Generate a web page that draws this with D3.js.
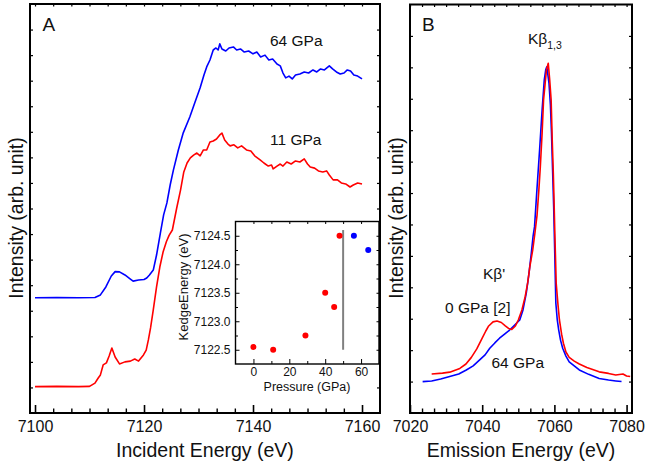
<!DOCTYPE html>
<html><head><meta charset="utf-8">
<script src="https://cdn.jsdelivr.net/npm/d3@7/dist/d3.min.js"></script>
<style>body{margin:0;background:#fff}svg{display:block}text{font-family:"Liberation Sans",Arial,sans-serif;fill:#111}</style>
</head><body>
<svg id="c" width="645" height="466"></svg>
<script>
// ---------- Panel A data: incident energy (eV) vs intensity (arb.) ----------
const xanes64Energy = [7100,7104,7108,7111,7112,7113,7114,7114.7,7115.5,7116.5,7117.5,7118,7119,7120,7120.5,7121,7121.7,7122.3,7123,7123.6,7124.2,7124.8,7125.4,7126.3,7127.2,7128.4,7129.3,7130.3,7131,7131.5,7132.1,7132.7,7133.2,7133.6,7133.9,7134.3,7135,7135.6,7136.4,7137,7137.7,7138.4,7139.2,7140,7140.7,7141.4,7142.2,7142.9,7143.6,7144.4,7145,7145.5,7146,7146.6,7147.2,7147.8,7148.6,7149.4,7150.2,7151,7151.7,7152.4,7153.1,7154,7154.6,7155.3,7156,7156.7,7157.3,7157.9,7158.5,7159.2,7160];
const xanes64Intensity = [4.51,4.52,4.51,4.52,4.62,4.93,5.36,5.53,5.52,5.40,5.24,5.16,5.20,5.22,5.28,5.40,5.59,6.18,7.04,7.75,8.22,8.92,9.51,10.29,10.96,11.58,12.13,12.72,13.22,13.54,13.81,14.2,14.28,14.2,14.44,14.24,14.16,14.28,14.32,14.2,14.24,14.12,14.16,14.05,14.12,13.93,14.0,13.81,13.85,13.65,13.58,13.3,13.11,13.18,13.07,13.22,13.26,13.34,13.3,13.42,13.34,13.46,13.42,13.58,13.46,13.34,13.26,13.3,13.42,13.38,13.22,13.18,13.07];
const xanes11Energy = [7100,7104,7108,7110,7111,7111.6,7112,7112.5,7113.1,7113.6,7114.1,7114.7,7115.5,7116.5,7117.5,7118.3,7119,7119.9,7120.4,7120.8,7121.2,7121.7,7122.3,7122.9,7123.5,7124.1,7124.6,7125.2,7126.0,7126.7,7127.3,7127.9,7128.5,7129.1,7129.7,7130.3,7130.9,7131.5,7132.1,7132.7,7133.3,7133.9,7134.3,7134.8,7135.4,7135.8,7136.5,7137.2,7137.9,7138.8,7139.6,7140.3,7141.3,7142,7142.8,7143.4,7143.7,7144.4,7145,7145.5,7146.2,7147,7147.8,7148.6,7149.4,7150,7150.5,7151.3,7152,7152.8,7153.5,7154,7154.7,7155.5,7156.2,7157,7157.8,7158.4,7159.2,7160];
const xanes11Intensity = [1.03,1.04,1.03,1.04,1.17,1.37,1.49,1.88,1.96,2.23,2.54,2.19,1.92,2.0,2.03,2.11,2.03,2.27,2.46,2.86,3.33,4.03,4.93,5.71,6.3,6.7,6.95,7.16,8.02,8.72,9.43,9.78,9.98,10.09,10.17,10.06,10.29,10.29,10.6,10.64,10.72,10.88,10.95,10.68,10.52,10.45,10.49,10.37,10.45,10.29,10.25,10.06,9.9,9.78,9.66,9.7,9.55,9.66,9.74,9.66,9.82,9.74,9.86,9.82,9.94,9.74,9.62,9.58,9.47,9.43,9.47,9.31,9.12,9.12,9.0,8.96,8.84,8.92,9.0,8.96];
const xTicksA = [7100,7120,7140,7160];
const yTicksA = d3.range(1,16);

// ---------- Inset data: K-edge energy vs pressure ----------
const insetPressureRed = [0,11,29,40,45,48];
const insetEdgeRed = [7122.55,7122.5,7122.75,7123.5,7123.25,7124.5];
const insetPressureBlue = [56,64];
const insetEdgeBlue = [7124.5,7124.25];
const insetLinePressure = 50;
const insetLineRange = [7122.5,7124.6];
const insetXTicks = [0,20,40,60];
const insetYTicks = [7122.5,7123.0,7123.5,7124.0,7124.5];

// ---------- Panel B data: emission energy (eV) vs intensity (arb.) ----------
const kb0Energy = [7026,7029,7031,7033.8,7035.5,7037,7038.5,7040,7041,7041.8,7043,7044.1,7045.3,7046.4,7047.3,7048.2,7049.2,7050,7051,7051.9,7052.6,7053.2,7054,7054.6,7055.2,7055.7,7056.1,7056.6,7057.0,7057.4,7057.8,7058.3,7058.7,7059.1,7059.4,7059.7,7059.9,7060.1,7060.5,7061,7061.4,7062,7062.5,7063.2,7064.1,7065.5,7066.9,7069,7072.4,7075,7077,7079,7080,7081];
const kb0Intensity = [1.24,1.27,1.30,1.42,1.56,1.77,2.04,2.38,2.61,2.77,2.90,2.93,2.88,2.77,2.69,2.66,2.77,2.96,3.28,3.70,4.14,4.66,5.19,5.72,6.30,7.10,7.83,8.91,9.96,10.44,10.92,11.13,10.60,9.96,8.69,7.64,6.78,5.82,4.13,3.44,2.96,2.51,2.22,1.94,1.77,1.65,1.56,1.45,1.31,1.26,1.21,1.24,1.18,1.16];
const kb64Energy = [7023.5,7026,7028.5,7031,7033.5,7035.6,7037.5,7039.3,7040.8,7042.1,7043.5,7044.8,7046.2,7047.6,7049,7050.4,7051.3,7052.2,7052.9,7053.6,7054.1,7054.5,7055.1,7055.9,7056.6,7057.2,7057.6,7057.9,7058.5,7058.9,7059.2,7059.5,7059.8,7060.1,7060.4,7060.8,7061.2,7061.7,7062.3,7063.2,7064.1,7065.5,7066.9,7069.5,7072.4,7075,7077,7078.6];
const kb64Intensity = [1.00,1.02,1.08,1.16,1.24,1.37,1.50,1.69,1.85,2.06,2.23,2.38,2.51,2.64,2.80,2.96,3.28,3.81,4.39,5.08,5.63,5.93,7.00,8.37,9.64,10.60,10.92,11.02,10.50,9.80,8.91,7.73,6.57,5.09,3.50,2.96,2.64,2.32,2.06,1.81,1.63,1.50,1.37,1.23,1.10,1.05,1.02,1.00];
const xTicksB = [7020,7040,7060,7080];
const yTicksB = d3.range(1,13);

const FONT = '"Liberation Sans",Arial,sans-serif';
const svg = d3.select('#c');

function zip(xs, ys){ return xs.map((v,i)=>[v, ys[i]]); }

function minorTicks(major, n){
  const out=[]; const step=(major[1]-major[0])/(n+1);
  for(let i=-1;i<major.length;i++){ for(let k=1;k<=n;k++){ out.push(major[0]+ (i*(n+1)+k)*step); } }
  return out;
}

function framePanel(x, y, majors, minors, yt, opts){
  const [x0,x1]=x.range(), [y0,y1]=y.range();
  const g = svg.append('g');
  const xd = x.domain();
  const inX = v => v>=Math.min(...xd)-1e-6 && v<=Math.max(...xd)+1e-6;
  g.append('g').attr('transform',`translate(0,${y0})`)
    .call(d3.axisBottom(x).tickValues(majors.filter(inX)).tickSize(-opts.maj).tickPadding(opts.pad).tickFormat(d3.format('d')))
    .call(a=>{a.select('.domain').remove(); a.selectAll('line').attr('stroke','#000').attr('stroke-width',1.6);
      a.selectAll('text').attr('font-size',opts.tickFont).attr('font-family',FONT).attr('fill','#111').attr('dy','0.71em');});
  g.append('g').attr('transform',`translate(0,${y0})`)
    .call(d3.axisBottom(x).tickValues(minors.filter(inX)).tickSize(-opts.min).tickFormat(''))
    .call(a=>{a.select('.domain').remove(); a.selectAll('line').attr('stroke','#000').attr('stroke-width',1.4);});
  g.append('g').attr('transform',`translate(0,${y1})`)
    .call(d3.axisTop(x).tickValues(majors.concat(minors).filter(inX)).tickSize(-2.5).tickFormat(''))
    .call(a=>{a.select('.domain').remove(); a.selectAll('line').attr('stroke','#000').attr('stroke-width',1.2);});
  g.append('g').attr('transform',`translate(${x0},0)`)
    .call(d3.axisLeft(y).tickValues(yt).tickSize(-3).tickFormat(''))
    .call(a=>{a.select('.domain').remove(); a.selectAll('line').attr('stroke','#000').attr('stroke-width',1.2);});
  g.append('g').attr('transform',`translate(${x1},0)`)
    .call(d3.axisRight(y).tickValues(yt).tickSize(-3).tickFormat(''))
    .call(a=>{a.select('.domain').remove(); a.selectAll('line').attr('stroke','#000').attr('stroke-width',1.2);});
  g.append('rect').attr('x',x0).attr('y',y1).attr('width',x1-x0).attr('height',y0-y1)
    .attr('fill','none').attr('stroke','#000').attr('stroke-width',2);
  return g;
}

function drawLine(x,y,data,color){
  svg.append('path').datum(data)
    .attr('d', d3.line().x(d=>x(d[0])).y(d=>y(d[1])))
    .attr('fill','none').attr('stroke',color).attr('stroke-width',1.6).attr('stroke-linejoin','round');
}

// ===== Panel A =====
const xA = d3.scaleLinear().domain([7099.08,7163.3]).range([30,380]);
const yA = d3.scaleLinear().domain([0,16]).range([413,4]);
framePanel(xA,yA,xTicksA,minorTicks(xTicksA,5),yTicksA,{maj:8,min:4.5,pad:8,tickFont:'16px'});
drawLine(xA,yA,zip(xanes64Energy,xanes64Intensity),'#0000ff');
drawLine(xA,yA,zip(xanes11Energy,xanes11Intensity),'#ff0000');
svg.append('text').attr('x',42.5).attr('y',31).attr('font-size',19).text('A');
svg.append('text').attr('x',270).attr('y',46).attr('font-size',15.5).text('64 GPa');
svg.append('text').attr('x',270).attr('y',145).attr('font-size',15.5).text('11 GPa');
svg.append('text').attr('x',205).attr('y',457).attr('text-anchor','middle').attr('font-size',19.5).text('Incident Energy (eV)');
svg.append('text').attr('transform','translate(23,218) rotate(-90)').attr('text-anchor','middle').attr('font-size',19.5).text('Intensity (arb. unit)');

// ===== Inset =====
const xI = d3.scaleLinear().domain([-10,70]).range([235.5,379]);
const yI = d3.scaleLinear().domain([7122.25,7124.75]).range([364,221.5]);
svg.append('rect').attr('x',235.5).attr('y',221.5).attr('width',143.5).attr('height',142.5).attr('fill','#fff');
const gI = svg.append('g');
gI.append('g').attr('transform','translate(0,364)')
  .call(d3.axisBottom(xI).tickValues(insetXTicks).tickSize(-5).tickPadding(3))
  .call(a=>{a.select('.domain').remove(); a.selectAll('line').attr('stroke','#000');
    a.selectAll('text').attr('font-size','12px').attr('font-family',FONT).attr('fill','#111').attr('dy','0.71em');});
gI.append('g').attr('transform','translate(0,364)')
  .call(d3.axisBottom(xI).tickValues(minorTicks(insetXTicks,1).filter(v=>v>-10&&v<70)).tickSize(-3).tickFormat(''))
  .call(a=>{a.select('.domain').remove(); a.selectAll('line').attr('stroke','#000');});
gI.append('g').attr('transform','translate(235.5,0)')
  .call(d3.axisLeft(yI).tickValues(insetYTicks).tickSize(-4).tickPadding(5).tickFormat(d3.format('.1f')))
  .call(a=>{a.select('.domain').remove(); a.selectAll('line').attr('stroke','#000');
    a.selectAll('text').attr('font-size','12px').attr('font-family',FONT).attr('fill','#111');});
gI.append('g').attr('transform','translate(235.5,0)')
  .call(d3.axisLeft(yI).tickValues(minorTicks(insetYTicks,1).filter(v=>v>7122.25&&v<7124.75)).tickSize(-2.5).tickFormat(''))
  .call(a=>{a.select('.domain').remove(); a.selectAll('line').attr('stroke','#000');});
gI.append('g').attr('transform','translate(379,0)')
  .call(d3.axisRight(yI).tickValues(minorTicks(insetYTicks,1).concat(insetYTicks).filter(v=>v>7122.25&&v<7124.75)).tickSize(-2.5).tickFormat(''))
  .call(a=>{a.select('.domain').remove(); a.selectAll('line').attr('stroke','#000');});
gI.append('g').attr('transform','translate(0,221.5)')
  .call(d3.axisTop(xI).tickValues(minorTicks(insetXTicks,1).concat(insetXTicks).filter(v=>v>-10&&v<70)).tickSize(-2.5).tickFormat(''))
  .call(a=>{a.select('.domain').remove(); a.selectAll('line').attr('stroke','#000');});
gI.append('rect').attr('x',235.5).attr('y',221.5).attr('width',143.5).attr('height',142.5).attr('fill','none').attr('stroke','#000').attr('stroke-width',1.4);
gI.append('line').attr('x1',xI(insetLinePressure)).attr('x2',xI(insetLinePressure))
  .attr('y1',yI(insetLineRange[0])).attr('y2',yI(insetLineRange[1])).attr('stroke','#808080').attr('stroke-width',2);
gI.selectAll('circle.r').data(zip(insetPressureRed,insetEdgeRed)).join('circle').attr('class','r')
  .attr('cx',d=>xI(d[0])).attr('cy',d=>yI(d[1])).attr('r',3).attr('fill','#ff0000');
gI.selectAll('circle.b').data(zip(insetPressureBlue,insetEdgeBlue)).join('circle').attr('class','b')
  .attr('cx',d=>xI(d[0])).attr('cy',d=>yI(d[1])).attr('r',3).attr('fill','#0000ff');
gI.append('text').attr('x',307).attr('y',391).attr('text-anchor','middle').attr('font-size',12.5).text('Pressure (GPa)');
gI.append('text').attr('transform','translate(188,287) rotate(-90)').attr('text-anchor','middle').attr('font-size',13).text('KedgeEnergy (eV)');

// ===== Panel B =====
const xB = d3.scaleLinear().domain([7020,7081.5]).range([410,632]);
const yB = d3.scaleLinear().domain([0,13]).range([413,4.5]);
framePanel(xB,yB,xTicksB,minorTicks(xTicksB,5),yTicksB,{maj:8,min:4.5,pad:8,tickFont:'16px'});
drawLine(xB,yB,zip(kb64Energy,kb64Intensity),'#0000ff');
drawLine(xB,yB,zip(kb0Energy,kb0Intensity),'#ff0000');
svg.append('text').attr('x',422).attr('y',31).attr('font-size',19).text('B');
const kt = svg.append('text').attr('x',528).attr('y',44).attr('font-size',15.5);
kt.append('tspan').text('Kβ');
kt.append('tspan').attr('font-size',10.5).attr('dy',5).text('1,3');
svg.append('text').attr('x',483).attr('y',279).attr('font-size',15.5).text("Kβ'");
svg.append('text').attr('x',445).attr('y',313).attr('font-size',15.5).text('0 GPa [2]');
svg.append('text').attr('x',491.5).attr('y',368).attr('font-size',15.5).text('64 GPa');
svg.append('text').attr('x',521).attr('y',457).attr('text-anchor','middle').attr('font-size',19.5).text('Emission Energy (eV)');
svg.append('text').attr('transform','translate(403,218) rotate(-90)').attr('text-anchor','middle').attr('font-size',19.5).text('Intensity (arb. unit)');
</script>
</body></html>
